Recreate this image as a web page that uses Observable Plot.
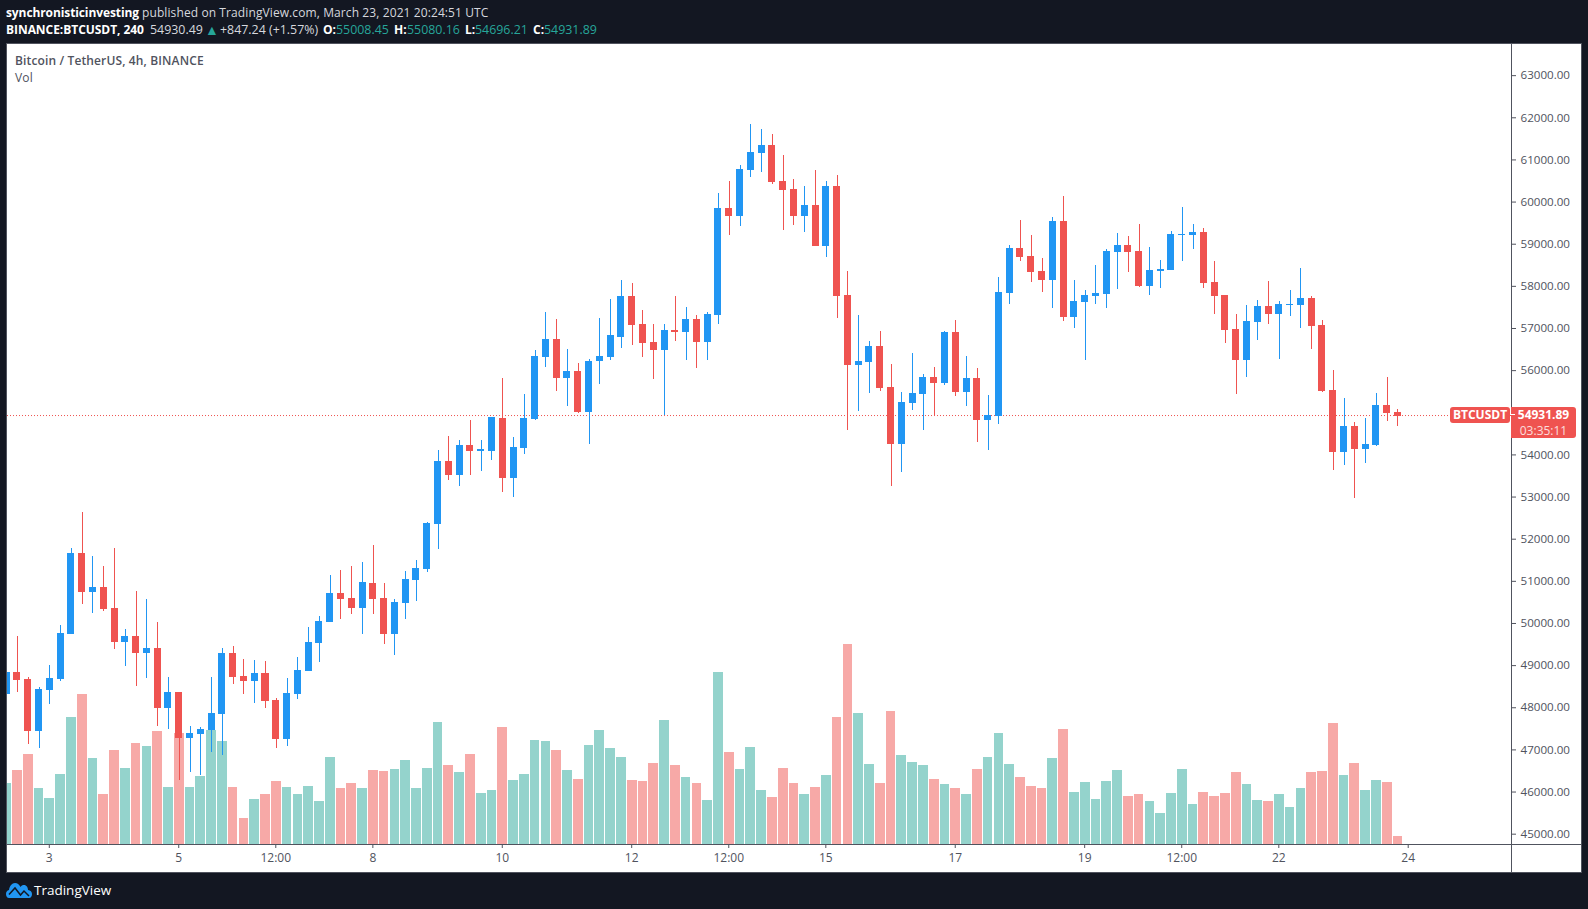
<!DOCTYPE html>
<html>
<head>
<meta charset="utf-8">
<script src="https://cdn.jsdelivr.net/npm/d3@7"></script>
<script src="https://cdn.jsdelivr.net/npm/@observablehq/plot@0.6"></script>
<style>
  html, body { margin: 0; padding: 0; background: #131722; width: 1588px; height: 909px; overflow: hidden; }
  body { font-family: "Open Sans", sans-serif; color: #fff; position: relative; font-size: 12px; }
  #head { position: absolute; left: 0; top: 0; width: 1588px; height: 43px; white-space: nowrap; color: #d6d8de; }
  #head span { position: absolute; line-height: 17px; }
  #line1 span { top: 4px; }
  #line2 span { top: 21px; }
  #head .b { color: #fff; font-weight: 700; }
  #head .up { color: #26a69a; font-size: 12.4px; }
  #head .n { font-size: 12.4px; }
  #panel { position: absolute; left: 6px; top: 43px; width: 1574px; height: 828px; border: 1px solid #50535e; background: #fff; }
  #panel svg { display: block; }
  .legend { position: absolute; left: 8px; color: #50535e; line-height: 16px; letter-spacing: .13px; }
  .tag { position: absolute; background: #ef5350; color: #fff; text-align: center; font-weight: 700; box-sizing: border-box; }
  .notch { position: absolute; left: 0; top: 7px; width: 4px; height: 1px; background: #fff; }
  #foot { position: absolute; left: 6px; top: 880px; height: 20px; display: flex; align-items: center; }
  #foot span { margin-left: 2px; font-size: 13.5px; color: #fff; position: relative; top: 0; }
</style>
</head>
<body>
<div id="head">
  <div id="line1">
    <span class="b" style="left:6px;letter-spacing:-.1px">synchronisticinvesting</span>
    <span style="left:142px;letter-spacing:.1px">published on TradingView.com, March 23, 2021 20:24:51 UTC</span>
  </div>
  <div id="line2">
    <span class="b" style="left:6px;letter-spacing:-.05px">BINANCE:BTCUSDT, 240</span>
    <span class="n" style="left:150px">54930.49</span>
    <span class="up" style="left:205px;font-size:14px">▲</span>
    <span class="n" style="left:220px">+847.24 (+1.57%)</span>
    <span class="b" style="left:323px">O:</span><span class="up" style="left:336px">55008.45</span>
    <span class="b" style="left:394px">H:</span><span class="up" style="left:407px">55080.16</span>
    <span class="b" style="left:465px">L:</span><span class="up" style="left:475px">54696.21</span>
    <span class="b" style="left:533px">C:</span><span class="up" style="left:544px">54931.89</span>
  </div>
</div>
<div id="panel">
  <div class="legend" style="top:9px;font-weight:600">Bitcoin / TetherUS, 4h, BINANCE</div>
  <div class="legend" style="top:26px">Vol</div>
</div>
<div id="foot">
  <svg width="26" height="16" viewBox="0 0 26 16"><path fill="#2196f3" d="M0 12c0-2 1-3.500 3-4 .6-4 3-7 6-7 2.500 0 4 1.500 5.500 4 1-1.500 2-2 3.500-2 2.500 0 4 2.500 4 5 2.500.3 4 2 4 4 0 2-1 4-3 4H3c-2 0-3-2-3-4z"/><path fill="none" stroke="#131722" stroke-width="1.500" d="M3 12.500L9 6l5.500 7L18 9l5 5"/></svg>
  <span>TradingView</span>
</div>
<script>
const opens = [48327,48849,48683,47449,48422,48683,49751,51673,50747,50866,50368,49561,49703,49300,49418,47995,48374,47283,47378,47472,47852,49300,48754,48635,48825,48184,47259,48327,48873,49537,50035,50724,50605,50368,50961,50605,49751,50486,51032,51293,52361,53856,53524,54236,54090,54093,54876,53453,54164,54853,56324,56751,55826,55992,55019,56229,56324,56798,57771,57107,56680,56490,56965,56917,57226,56680,57320,59859,59670,60761,61165,61354,60500,60310,59670,59931,58958,60382,57795,56134,56205,56585,55612,54259,55232,55446,55849,55707,56917,55493,55825,54829,54924,57842,58910,58720,58364,58151,59551,57273,57629,57772,57819,58816,58982,58839,58009,58365,58389,59227,59219,59290,58104,57795,56989,56253,57155,57534,57344,57558,57558,57724,57083,55541,54070,54687,54141,54236,55185,55008.45];
const closes = [48849,48659,47449,48445,48706,49774,51673,50747,50866,50344,49561,49703,49300,49418,47995,48374,47283,47401,47496,47876,49300,48730,48635,48825,48161,47259,48351,48896,49561,50059,50724,50581,50368,50985,50581,49751,50510,51056,51317,52385,53856,53524,54236,54093,54135,54900,53453,54188,54876,56348,56751,55826,55992,55019,56229,56348,56846,57771,57083,56656,56490,56965,56917,57226,56680,57344,59859,59670,60785,61188,61354,60476,60287,59670,59931,58958,60382,57771,56134,56229,56585,55588,54259,55256,55469,55849,55707,56917,55493,55825,54829,54947,57866,58910,58697,58341,58151,59551,57273,57653,57795,57843,58839,58982,58816,58009,58389,58412,59243,59251,59290,58080,57772,56965,56253,57178,57534,57344,57582,57590,57724,57060,55517,54070,54687,54141,54260,55185,54995,54931.89];
const highs = [48900,49703,48730,48493,49015,49964,51791,52646,51602,51364,51791,49869,50771,50581,50035,48730,48374,47567,47544,48730,49418,49466,49157,49134,49110,48232,48706,49205,49917,50178,51151,51269,51364,51459,51863,50961,50581,51246,51507,52409,54117,54449,54354,54829,54354,54900,55826,54425,55446,56490,57392,57226,56514,56182,56276,57249,57700,58151,58080,57439,57107,57107,57771,57510,57321,57392,60215,60500,60880,61853,61734,61615,61117,60548,60382,60761,60500,60643,58364,57320,56703,56941,56158,55493,56419,55920,56086,56941,57202,56347,56063,55422,58222,58981,59575,59219,58673,59646,60144,58151,57914,58507,58887,59267,59195,59480,58934,58626,59314,59884,59480,59385,58602,57795,57344,57558,57677,58128,57653,57914,58436,57772,57202,56016,55351,54782,54877,55470,55849,55080.16];
const lows = [48300,48374,47140,47045,48089,48635,49751,50462,50249,50296,49395,48991,48517,48706,47567,47496,46286,46476,46405,46950,46879,48564,48327,48113,47995,47045,47093,48208,48873,49086,50035,50107,50225,49751,50225,49513,49252,50100,50534,51222,51768,53405,53263,53524,53619,53880,53120,53002,54022,54829,56087,55517,55161,54995,54259,55683,56253,56537,56609,56324,55802,54940,56704,56253,56063,56253,57107,59219,59432,60595,60714,60429,59337,59456,59290,58958,58697,57249,54591,55042,55469,55517,53263,53595,55066,54591,54924,55659,55398,55161,54307,54117,54734,57581,58602,58103,57866,57486,57178,57012,56253,57582,57487,57938,58341,57985,57795,57961,58389,58602,58887,57961,57344,56656,55446,55849,56727,57107,56277,57297,57012,56514,55493,53643,53761,52978,53809,54212,54805,54696.21];
const volumes = [184,223,271,169,139,211,382,451,259,151,283,229,304,295,340,172,334,172,205,343,310,172,79,136,151,190,172,151,175,130,262,169,184,169,223,220,226,253,169,229,367,238,217,271,154,163,352,193,211,313,310,283,223,196,298,343,289,262,193,190,244,373,238,202,184,133,517,277,226,292,163,142,229,184,151,172,208,382,601,394,241,184,400,268,247,238,196,181,169,151,226,262,334,241,202,175,169,259,346,157,187,136,190,223,145,151,130,94,154,226,121,157,145,154,217,181,133,130,151,112,169,217,220,364,208,244,163,193,187,25];
// 55000 sits under the last-price tag, as in the reference
const priceTicks = [45000,46000,47000,48000,49000,50000,51000,52000,53000,54000,56000,57000,58000,59000,60000,61000,62000,63000];
const timeTickBars = [4,16,25,34,46,58,67,76,88,100,109,118,130];
const timeTickLabels = ["3","5","12:00","8","10","12","12:00","15","17","19","12:00","22","24"];
const lastClose = 54931.89;

const bars = opens.map((o, i) => ({i, o, c: closes[i], h: highs[i], l: lows[i], v: volumes[i], up: closes[i] >= o}));
const UP = "#2196f3", DOWN = "#ef5350", VOL_UP = "#94d3cc", VOL_DOWN = "#f7a9a7", INK = "#50535e";
const volBase = 44767, volUnit = 7.91;
const labelOf = new Map(timeTickBars.map((b, k) => [b, timeTickLabels[k]]));

const chart = Plot.plot({
  width: 1574, height: 828,
  marginLeft: 0, marginRight: 70, marginTop: 0, marginBottom: 28,
  style: {background: "#fff", fontFamily: '"Open Sans", sans-serif', fontSize: "12px", color: INK},
  x: {type: "linear", domain: [0.078, 139.53], range: [0, 1504]},
  y: {type: "linear", domain: [volBase, 63751], range: [800, 0]},
  marks: [
    Plot.rect(bars, {x1: d => d.i - 0.45, x2: d => d.i + 0.45, y1: volBase, y2: d => volBase + d.v * volUnit,
      fill: d => d.up ? VOL_UP : VOL_DOWN, clip: true, shapeRendering: "crispEdges"}),
    Plot.ruleY([lastClose], {x1: 0.078, x2: 139.53, stroke: DOWN, strokeWidth: 1, strokeDasharray: "1 2", dy: -0.6}),
    Plot.ruleX(bars, {x: "i", y1: "l", y2: "h", stroke: d => d.up ? UP : DOWN, strokeWidth: 1, clip: true, shapeRendering: "crispEdges"}),
    Plot.rect(bars, {x1: d => d.i - 0.325, x2: d => d.i + 0.325, y1: d => Math.min(d.o, d.c), y2: d => Math.max(d.o, d.c),
      fill: d => d.up ? UP : DOWN, clip: true, shapeRendering: "crispEdges"}),
    Plot.ruleX([139.53], {y1: 44103, y2: 63751, stroke: INK, strokeWidth: 1, shapeRendering: "crispEdges"}),
    Plot.ruleY([volBase], {x1: 0.078, x2: 146.02, stroke: INK, strokeWidth: 1, shapeRendering: "crispEdges"}),
    Plot.axisY({anchor: "right", ticks: priceTicks, tickFormat: d => d.toFixed(2), tickSize: 4, tickPadding: 5, label: null, stroke: INK, fill: INK, fontSize: 11.6, dy: -0.5}),
    Plot.axisX({anchor: "bottom", ticks: timeTickBars, tickFormat: d => labelOf.get(d), tickSize: 4, tickPadding: 5, label: null, stroke: INK, fill: INK, fontSize: 12, textAnchor: "middle", dx: -0.5})
  ]
});
const panel = document.getElementById("panel");
panel.appendChild(chart);

// Price tags follow the chart's own y scale
const yTag = chart.scale("y").apply(lastClose);
function tag(html, left, width, height, radius) {
  const t = document.createElement("div");
  t.className = "tag";
  t.innerHTML = html;
  t.style.cssText = `left:${left}px;top:${yTag - 8.5}px;width:${width}px;height:${height}px;border-radius:${radius};line-height:16px`;
  panel.appendChild(t);
}
tag("BTCUSDT", 1443, 60, 16, "3px");
tag('<div class="notch"></div>54931.89<div style="font-weight:400;opacity:.8;line-height:15px">03:35:11</div>', 1504, 65, 31, "0 3px 3px 0");
</script>
</body>
</html>
